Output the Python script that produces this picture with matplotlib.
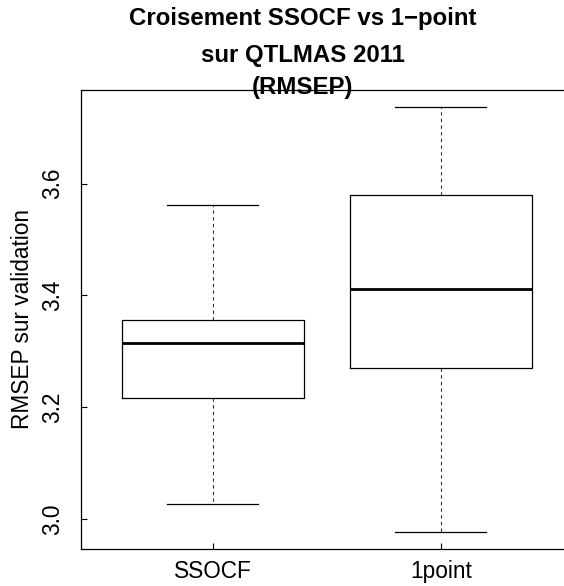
import matplotlib
matplotlib.use("Agg")
import matplotlib.pyplot as plt

plt.rcParams['font.family'] = ['Liberation Sans', 'DejaVu Sans']

categories = ["SSOCF", "1point"]
whislo = [3.027, 2.977]
q1 = [3.216, 3.271]
med = [3.315, 3.411]
q3 = [3.356, 3.579]
whishi = [3.561, 3.7375]
yticks = [3.0, 3.2, 3.4, 3.6]
title_lines = ["Croisement SSOCF vs 1\u2212point", "sur QTLMAS 2011", "(RMSEP)"]
ylabel = "RMSEP sur validation"

W, H = 564, 586
fig = plt.figure(figsize=(W / 100, H / 100), dpi=100)
left, right, top, bottom = 80.5, 573, 89.7, 549
ax = fig.add_axes([left / W, (H - bottom) / H, (right - left) / W, (bottom - top) / H])

stats = []
for i, c in enumerate(categories):
    stats.append(dict(label=c, whislo=whislo[i], q1=q1[i], med=med[i], q3=q3[i], whishi=whishi[i], fliers=[]))

ax.bxp(stats, positions=[1, 2], widths=0.8, showfliers=False,
       boxprops=dict(color='black', linewidth=0.9),
       medianprops=dict(color='black', linewidth=2.0, solid_capstyle='butt'),
       whiskerprops=dict(color='#333333', linewidth=0.8, linestyle=(0, (3, 3))),
       capprops=dict(color='black', linewidth=0.9), capwidths=0.4)

lo = min(whislo); hi = max(whishi); r = hi - lo
ax.set_xlim(0.42, 2.58)
ax.set_ylim(lo - 0.04 * r, hi + 0.04 * r)
fs = 16.3
ax.set_yticks(yticks)
ax.set_yticklabels([f"{v:.1f}" for v in yticks], rotation=90, va='center', fontsize=fs)
ax.set_xticks([1, 2])
ax.set_xticklabels(categories, fontsize=fs)
ax.tick_params(direction='in', length=4.3, width=0.8)
ax.tick_params(axis='y', pad=12)
ax.tick_params(axis='x', pad=8)
for s in ax.spines.values():
    s.set_linewidth(0.9)
ax.set_ylabel(ylabel, fontsize=fs, labelpad=5)

baselines = [25, 62, 94]
for t, b in zip(title_lines, baselines):
    fig.text(302.7 / W, 1 - b / H, t, ha='center', va='baseline', fontsize=17.3, fontweight='bold')

fig.savefig("out.png", dpi=100)
